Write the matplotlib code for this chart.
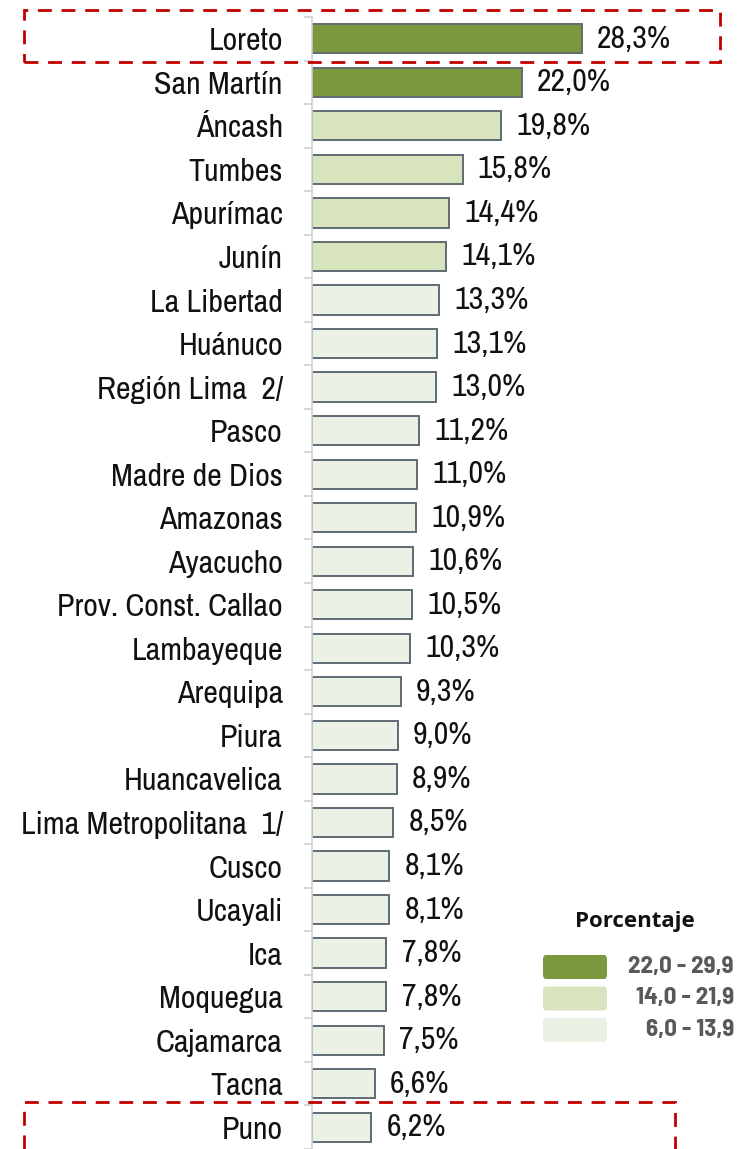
import matplotlib
matplotlib.use('Agg')
import matplotlib.pyplot as plt
from matplotlib import font_manager
from matplotlib.patches import FancyBboxPatch, Rectangle

# Data
regions = ['Loreto', 'San Martín', 'Áncash', 'Tumbes', 'Apurímac', 'Junín',
           'La Libertad', 'Huánuco', 'Región Lima  2/', 'Pasco', 'Madre de Dios',
           'Amazonas', 'Ayacucho', 'Prov. Const. Callao', 'Lambayeque', 'Arequipa',
           'Piura', 'Huancavelica', 'Lima Metropolitana  1/', 'Cusco', 'Ucayali',
           'Ica', 'Moquegua', 'Cajamarca', 'Tacna', 'Puno']
values = [28.3, 22.0, 19.8, 15.8, 14.4, 14.1, 13.3, 13.1, 13.0, 11.2, 11.0,
          10.9, 10.6, 10.5, 10.3, 9.3, 9.0, 8.9, 8.5, 8.1, 8.1, 7.8, 7.8, 7.5,
          6.6, 6.2]

legend_labels = ['22,0 - 29,9', '14,0 - 21,9', '6,0 - 13,9']
legend_colors = ['#7a983c', '#d7e4bd', '#ebf1e4']

def color_for(v):
    if v >= 22.0:
        return legend_colors[0]
    if v >= 14.0:
        return legend_colors[1]
    return legend_colors[2]

# pick narrow fonts (Arial Narrow look-alike)
names = {f.name for f in font_manager.fontManager.ttflist}
def pick(cands):
    for c in cands:
        if c in names:
            return c
    return 'Liberation Sans'
narrow = pick(['Liberation Sans Narrow', 'Archivo Narrow', 'Roboto Condensed'])
narrow_bold = pick(['Liberation Sans Narrow', 'Barlow Semi Condensed', 'Roboto Condensed'])

fig = plt.figure(figsize=(7.44, 11.49), dpi=100)
ax = fig.add_axes([312 / 744, 0, 429 / 744, 1 - 17 / 1149])

y = list(range(len(regions)))
ax.barh(y, values, height=0.67, color=[color_for(v) for v in values],
        edgecolor='#5f6b73', linewidth=1.4)

for yi, v in zip(y, values):
    ax.text(v + 1.6, yi, f'{v:.1f}%'.replace('.', ','), va='center', ha='left',
            fontsize=23, family=narrow, color='#111111')

ax.set_xlim(0, 45)
ax.set_ylim(len(regions) - 0.5, -0.5)
ax.set_yticks(y)
ax.set_yticklabels(regions, fontsize=23, family=narrow, color='#111111')
ax.tick_params(axis='y', which='major', length=0, pad=21)
ax.set_yticks([i + 0.5 for i in range(-1, len(regions))], minor=True)
ax.tick_params(axis='y', which='minor', length=6, color='#d0d0d0', width=1.2)
ax.set_xticks([])
for s in ['top', 'right', 'bottom']:
    ax.spines[s].set_visible(False)
ax.spines['left'].set_color('#d0d0d0')
ax.spines['left'].set_linewidth(1.2)

# Highlight boxes
H = 1149
fig.patches.append(Rectangle((24 / 744, 1 - 62 / H), (720 - 24) / 744, 52 / H,
                             transform=fig.transFigure, fill=False,
                             edgecolor='#c00000', linestyle=(0, (5, 3.5)), linewidth=2))
fig.patches.append(Rectangle((24 / 744, 1 - 1160 / H), (675 - 24) / 744, 58 / H,
                             transform=fig.transFigure, fill=False,
                             edgecolor='#c00000', linestyle=(0, (5, 3.5)), linewidth=2))

# Legend
fig.text(635 / 744, 1 - 922 / H, 'Porcentaje', ha='center', va='center',
         fontsize=16, fontweight='bold', family='Open Sans', color='#111111')
for i, (lab, col) in enumerate(zip(legend_labels, legend_colors)):
    yc = 967 + i * 31.5
    fig.patches.append(FancyBboxPatch((543 / 744, 1 - (yc + 12) / H), 64 / 744, 24 / H,
                                      boxstyle='round,pad=0,rounding_size=0.004',
                                      transform=fig.transFigure, facecolor=col,
                                      edgecolor='none'))
    fig.text(734 / 744, 1 - yc / H, lab, ha='right', va='center', fontsize=18,
             fontweight='bold', family=narrow_bold, color='#595959')

fig.savefig('out.png', dpi=100)
